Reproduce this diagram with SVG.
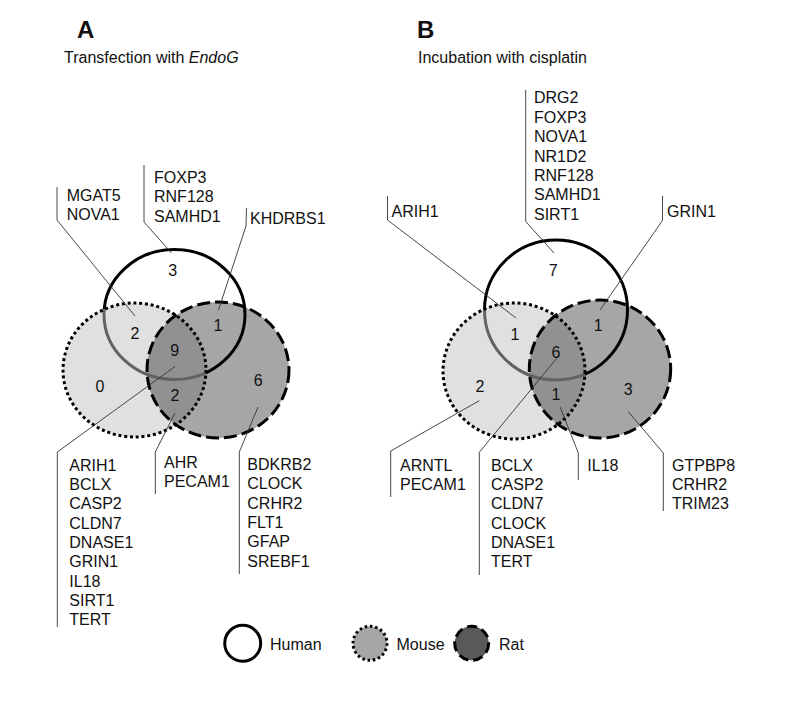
<svg xmlns="http://www.w3.org/2000/svg" width="800" height="705" viewBox="0 0 800 705">
<style>
text{font-family:"Liberation Sans",Arial,sans-serif;font-size:16px;fill:#111}
.title{font-size:24px;font-weight:bold}
.num{text-anchor:middle}
.lead{fill:none;stroke:#333;stroke-width:0.9}
.mouseFill{fill:#e0e0e0}
.ratFill{fill:#a6a6a6}
.bothFill{fill:#919191}
.humanStroke{fill:none;stroke:#000;stroke-width:3}
.humanGray{fill:none;stroke:#626262;stroke-width:3}
.mouseStroke{fill:none;stroke:#000;stroke-width:3;stroke-dasharray:3 2.8}
.ratStroke{fill:none;stroke:#000;stroke-width:3;stroke-dasharray:13 5}
</style>
<defs>
<clipPath id="clipMouseA"><ellipse cx="134.5" cy="370" rx="71.5" ry="67"/></clipPath>
<clipPath id="clipMouseB"><ellipse cx="514" cy="371" rx="71" ry="68"/></clipPath>
<mask id="outMouseA" maskUnits="userSpaceOnUse" x="0" y="0" width="800" height="705"><rect width="800" height="705" fill="#fff"/><ellipse cx="134.5" cy="370" rx="71.5" ry="67" fill="#000"/></mask>
<mask id="outMouseB" maskUnits="userSpaceOnUse" x="0" y="0" width="800" height="705"><rect width="800" height="705" fill="#fff"/><ellipse cx="514" cy="371" rx="71" ry="68" fill="#000"/></mask>
</defs>
<rect width="800" height="705" fill="#fff"/>

<g id="title-A">
<text class="title" x="77" y="38">A</text>
<text x="64" y="63">Transfection with <tspan font-style="italic">EndoG</tspan></text>
</g>
<g id="title-B">
<text class="title" x="417" y="38">B</text>
<text x="418" y="63">Incubation with cisplatin</text>
</g>

<!-- Panel A sets -->
<g id="A-mouse-fill"><ellipse class="mouseFill" cx="134.5" cy="370" rx="71.5" ry="67"/></g>
<g id="A-rat-fill"><ellipse class="ratFill" cx="218" cy="370" rx="71" ry="68"/>
<ellipse class="bothFill" cx="218" cy="370" rx="71" ry="68" clip-path="url(#clipMouseA)"/></g>
<g id="A-human"><ellipse class="humanStroke" cx="174.5" cy="314.5" rx="70.5" ry="65" mask="url(#outMouseA)"/>
<ellipse class="humanGray" cx="174.5" cy="314.5" rx="70.5" ry="65" clip-path="url(#clipMouseA)"/></g>
<g id="A-mouse"><ellipse class="mouseStroke" cx="134.5" cy="370" rx="71.5" ry="67"/></g>
<g id="A-rat"><ellipse class="ratStroke" cx="218" cy="370" rx="71" ry="68"/></g>

<!-- Panel B sets -->
<g id="B-mouse-fill"><ellipse class="mouseFill" cx="514" cy="371" rx="71" ry="68"/></g>
<g id="B-rat-fill"><ellipse class="ratFill" cx="600" cy="369" rx="70.7" ry="69"/>
<ellipse class="bothFill" cx="600" cy="369" rx="70.7" ry="69" clip-path="url(#clipMouseB)"/></g>
<g id="B-human"><ellipse class="humanStroke" cx="556" cy="310" rx="71.5" ry="70" mask="url(#outMouseB)"/>
<ellipse class="humanGray" cx="556" cy="310" rx="71.5" ry="70" clip-path="url(#clipMouseB)"/></g>
<g id="B-mouse"><ellipse class="mouseStroke" cx="514" cy="371" rx="71" ry="68"/></g>
<g id="B-rat"><ellipse class="ratStroke" cx="600" cy="369" rx="70.7" ry="69"/></g>

<!-- connectors -->
<g id="connectors">
<polyline class="lead" points="57,187 57,220 135,316"/>
<polyline class="lead" points="144,165 144,222 171.5,253"/>
<polyline class="lead" points="246.5,208 246,226 218.5,310"/>
<polyline class="lead" points="175,366.5 57.3,452 57.3,627"/>
<polyline class="lead" points="175,413 155.3,452 155.3,494"/>
<polyline class="lead" points="258,407 239.3,452 239.3,574"/>

<polyline class="lead" points="387.5,196 387.5,220 516,318"/>
<polyline class="lead" points="525.7,90 525.7,221.5 554,253"/>
<polyline class="lead" points="662.5,196 662.5,220.5 600,310"/>
<polyline class="lead" points="479.3,400.7 390.7,451 390.7,497"/>
<polyline class="lead" points="556.7,358.3 479.3,452.3 479.3,575"/>
<polyline class="lead" points="560,406.7 578.3,453 578.3,480"/>
<polyline class="lead" points="628.3,411.7 663.3,453 663.3,511"/>
</g>

<!-- Panel A counts -->
<g id="A-counts">
<text class="num" x="172.7" y="275.5">3</text>
<text class="num" x="135" y="339">2</text>
<text class="num" x="218" y="331">1</text>
<text class="num" x="174.7" y="356">9</text>
<text class="num" x="100" y="392">0</text>
<text class="num" x="175" y="401">2</text>
<text class="num" x="258.3" y="386">6</text>
</g>
<!-- Panel B counts -->
<g id="B-counts">
<text class="num" x="553.3" y="275.5">7</text>
<text class="num" x="515" y="339.5">1</text>
<text class="num" x="598.3" y="331">1</text>
<text class="num" x="556" y="358">6</text>
<text class="num" x="480" y="392">2</text>
<text class="num" x="556" y="400">1</text>
<text class="num" x="628.3" y="394.5">3</text>
</g>

<!-- Panel A gene lists -->
<g id="A-list-human-mouse"><text x="66.7" y="201">MGAT5</text><text x="66.7" y="220">NOVA1</text></g>
<g id="A-list-human"><text x="154" y="183">FOXP3</text><text x="154" y="202.3">RNF128</text><text x="154" y="221.6">SAMHD1</text></g>
<g id="A-list-human-rat"><text x="250" y="224">KHDRBS1</text></g>
<g id="A-list-all">
<text x="69.3" y="470.7">ARIH1</text><text x="69.3" y="490">BCLX</text><text x="69.3" y="509.3">CASP2</text>
<text x="69.3" y="528.6">CLDN7</text><text x="69.3" y="547.9">DNASE1</text><text x="69.3" y="567.2">GRIN1</text>
<text x="69.3" y="586.5">IL18</text><text x="69.3" y="605.8">SIRT1</text><text x="69.3" y="625.1">TERT</text>
</g>
<g id="A-list-mouse-rat"><text x="164" y="467.7">AHR</text><text x="164" y="487">PECAM1</text></g>
<g id="A-list-rat">
<text x="247.3" y="470">BDKRB2</text><text x="247.3" y="489.3">CLOCK</text><text x="247.3" y="508.6">CRHR2</text>
<text x="247.3" y="527.9">FLT1</text><text x="247.3" y="547.2">GFAP</text><text x="247.3" y="566.5">SREBF1</text>
</g>

<!-- Panel B gene lists -->
<g id="B-list-human-mouse"><text x="391.5" y="216.7">ARIH1</text></g>
<g id="B-list-human">
<text x="534" y="103.3">DRG2</text><text x="534" y="122.7">FOXP3</text><text x="534" y="142.1">NOVA1</text>
<text x="534" y="161.5">NR1D2</text><text x="534" y="180.9">RNF128</text><text x="534" y="200.3">SAMHD1</text>
<text x="534" y="219.7">SIRT1</text>
</g>
<g id="B-list-human-rat"><text x="667" y="216.7">GRIN1</text></g>
<g id="B-list-mouse"><text x="400" y="470.7">ARNTL</text><text x="400" y="490">PECAM1</text></g>
<g id="B-list-all">
<text x="491" y="470.7">BCLX</text><text x="491" y="490">CASP2</text><text x="491" y="509.3">CLDN7</text>
<text x="491" y="528.6">CLOCK</text><text x="491" y="547.9">DNASE1</text><text x="491" y="567.2">TERT</text>
</g>
<g id="B-list-mouse-rat"><text x="587.3" y="470.7">IL18</text></g>
<g id="B-list-rat"><text x="672" y="470.7">GTPBP8</text><text x="672" y="490">CRHR2</text><text x="672" y="509.3">TRIM23</text></g>

<!-- Legend -->
<g id="legend-human"><circle cx="242.7" cy="643.3" r="18" fill="none" stroke="#000" stroke-width="3"/><text x="270" y="649.5">Human</text></g>
<g id="legend-mouse"><circle cx="370" cy="643.3" r="17" fill="#a6a6a6" stroke="#000" stroke-width="3" stroke-dasharray="2.5 2.8"/><text x="396.5" y="649.5">Mouse</text></g>
<g id="legend-rat"><circle cx="471.7" cy="643.3" r="17" fill="#595959" stroke="#000" stroke-width="3" stroke-dasharray="10 5"/><text x="499" y="649.5">Rat</text></g>
</svg>
